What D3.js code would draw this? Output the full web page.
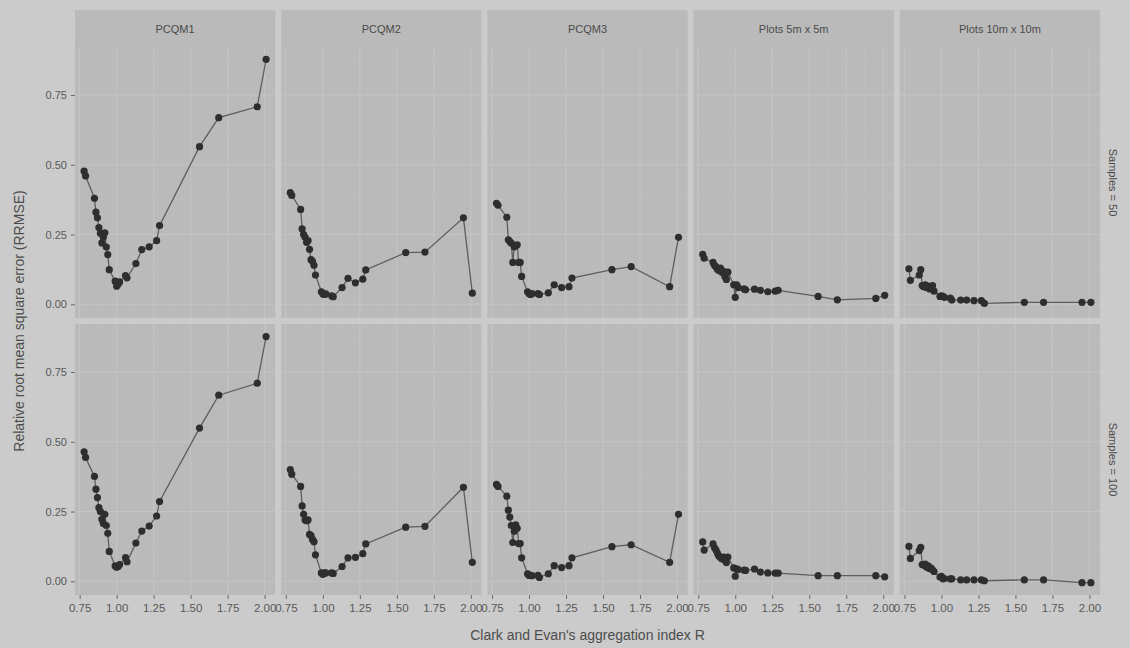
<!DOCTYPE html>
<html>
<head>
<meta charset="utf-8">
<script src="https://cdn.jsdelivr.net/npm/d3@7"></script>
<style>
  html, body { margin: 0; padding: 0; background: #cbcbcb; }
  svg { display: block; }
  text { font-family: "Liberation Sans", Arial, sans-serif; }
</style>
</head>
<body>
<svg id="chart" width="1130" height="648"></svg>
<script>
// ---------------- data ----------------
const R = [0.78, 0.79, 0.85, 0.86, 0.87, 0.88, 0.89, 0.90, 0.91, 0.92, 0.93, 0.94, 0.95, 0.99,
           1.00, 1.01, 1.02, 1.06, 1.07, 1.13, 1.17, 1.22, 1.27, 1.29, 1.56, 1.69, 1.95, 2.01];

const methods = ["PCQM1", "PCQM2", "PCQM3", "Plots 5m x 5m", "Plots 10m x 10m"];
const sampleRows = ["Samples = 50", "Samples = 100"];

const xTicks = [0.75, 1.00, 1.25, 1.50, 1.75, 2.00];
const yTicks = [0.00, 0.25, 0.50, 0.75];

// Samples = 50
const pcqm1_50 = [0.477, 0.46, 0.38, 0.33, 0.31, 0.275, 0.255, 0.22, 0.24, 0.256, 0.205, 0.178, 0.124, 0.083,
                  0.065, 0.072, 0.08, 0.103, 0.095, 0.146, 0.196, 0.206, 0.228, 0.282, 0.565, 0.669, 0.708, 0.878];
const pcqm2_50 = [0.40, 0.39, 0.34, 0.27, 0.25, 0.24, 0.222, 0.228, 0.197, 0.16, 0.154, 0.14, 0.105, 0.045,
                  0.037, 0.035, 0.037, 0.03, 0.027, 0.06, 0.093, 0.077, 0.09, 0.123, 0.185, 0.187, 0.31, 0.04];
const pcqm3_50 = [0.362, 0.355, 0.312, 0.231, 0.225, 0.219, 0.15, 0.206, 0.21, 0.213, 0.15, 0.15, 0.10, 0.045,
                  0.038, 0.035, 0.038, 0.038, 0.035, 0.041, 0.07, 0.06, 0.063, 0.094, 0.124, 0.135, 0.063, 0.24];
const plots5_50 = [0.179, 0.165, 0.15, 0.14, 0.134, 0.125, 0.121, 0.13, 0.115, 0.118, 0.10, 0.089, 0.115, 0.07,
                   0.025, 0.07, 0.06, 0.055, 0.052, 0.054, 0.05, 0.045, 0.047, 0.05, 0.028, 0.016, 0.021, 0.032];
const plots10_50 = [0.127, 0.086, 0.105, 0.124, 0.067, 0.063, 0.07, 0.06, 0.065, 0.055, 0.06, 0.067, 0.047, 0.028,
                    0.03, 0.028, 0.025, 0.022, 0.015, 0.015, 0.015, 0.013, 0.013, 0.003, 0.007, 0.007, 0.007, 0.007];

// Samples = 100
const pcqm1_100 = [0.464, 0.444, 0.376, 0.33, 0.30, 0.264, 0.25, 0.222, 0.207, 0.24, 0.20, 0.172, 0.107, 0.055,
                   0.05, 0.053, 0.06, 0.085, 0.07, 0.137, 0.18, 0.198, 0.234, 0.286, 0.549, 0.667, 0.71, 0.877];
const pcqm2_100 = [0.40, 0.384, 0.34, 0.27, 0.24, 0.22, 0.217, 0.22, 0.168, 0.164, 0.15, 0.142, 0.095, 0.03,
                   0.025, 0.03, 0.03, 0.03, 0.028, 0.053, 0.084, 0.086, 0.099, 0.134, 0.194, 0.197, 0.337, 0.068];
const pcqm3_100 = [0.347, 0.34, 0.305, 0.255, 0.23, 0.20, 0.139, 0.179, 0.202, 0.19, 0.135, 0.135, 0.084, 0.027,
                   0.021, 0.021, 0.02, 0.021, 0.014, 0.027, 0.056, 0.049, 0.056, 0.084, 0.124, 0.131, 0.068, 0.24];
const plots5_100 = [0.141, 0.112, 0.134, 0.12, 0.112, 0.10, 0.09, 0.085, 0.08, 0.087, 0.075, 0.067, 0.087, 0.048,
                    0.018, 0.045, 0.042, 0.04, 0.039, 0.044, 0.033, 0.03, 0.029, 0.029, 0.02, 0.02, 0.02, 0.016];
const plots10_100 = [0.125, 0.082, 0.11, 0.122, 0.06, 0.058, 0.062, 0.05, 0.055, 0.045, 0.047, 0.041, 0.035, 0.015,
                     0.018, 0.009, 0.01, 0.009, 0.009, 0.005, 0.005, 0.005, 0.005, 0.002, 0.005, 0.005, -0.005, -0.005];

const seriesByRow = [
  [pcqm1_50, pcqm2_50, pcqm3_50, plots5_50, plots10_50],
  [pcqm1_100, pcqm2_100, pcqm3_100, plots5_100, plots10_100]
];

// ---------------- layout ----------------
const W = 1130, H = 648;
const left = 75, right = 1100, gap = 6;
const nCol = methods.length;
const pw = (right - left - gap * (nCol - 1)) / nCol;
const stripTop = 10, stripH = 37;
const row1Top = stripTop + stripH, ph = 271;
const rowTops = [row1Top, row1Top + ph + gap];
const bottomY = rowTops[1] + ph;

const bg = "#cbcbcb", panelFill = "#bababa", stripFill = "#bababa";
const gridMajor = "#c4c4c4", gridMinor = "#bfbfbf";
const textCol = "#595959";

const svg = d3.select("#chart");
svg.append("rect").attr("width", W).attr("height", H).attr("fill", bg);

// shared scales (ggplot-like 5% expansion)
const allVals = seriesByRow.flat(2);
const xMin = d3.min(R), xMax = d3.max(R);
const yMin = d3.min(allVals), yMax = d3.max(allVals);
const xPad = (xMax - xMin) * 0.05, yPad = (yMax - yMin) * 0.05;
const x = d3.scaleLinear().domain([xMin - xPad, xMax + xPad]).range([0, pw]);
const y = d3.scaleLinear().domain([yMin - yPad, yMax + yPad]).range([ph, 0]);

const xMinor = xTicks.slice(0, -1).map((t, i) => (t + xTicks[i + 1]) / 2);
const yMinor = yTicks.map(t => t + 0.125);

methods.forEach((m, c) => {
  const px = left + c * (pw + gap);
  // top strip
  svg.append("rect").attr("x", px).attr("y", stripTop).attr("width", pw).attr("height", stripH)
    .attr("fill", stripFill);
  svg.append("text").attr("x", px + pw / 2).attr("y", stripTop + stripH / 2 + 4)
    .attr("text-anchor", "middle").attr("font-size", 11).attr("fill", "#4a4a4a").text(m);

  sampleRows.forEach((s, r) => {
    const g = svg.append("g").attr("transform", `translate(${px},${rowTops[r]})`);
    g.append("rect").attr("width", pw).attr("height", ph).attr("fill", panelFill);
    // minor grid
    g.selectAll(".gxm").data(xMinor).join("line")
      .attr("x1", d => x(d)).attr("x2", d => x(d)).attr("y1", 0).attr("y2", ph)
      .attr("stroke", gridMinor).attr("stroke-width", 0.6);
    g.selectAll(".gym").data(yMinor.filter(v => y(v) > 0)).join("line")
      .attr("y1", d => y(d)).attr("y2", d => y(d)).attr("x1", 0).attr("x2", pw)
      .attr("stroke", gridMinor).attr("stroke-width", 0.6);
    // major grid
    g.selectAll(".gx").data(xTicks).join("line")
      .attr("x1", d => x(d)).attr("x2", d => x(d)).attr("y1", 0).attr("y2", ph)
      .attr("stroke", gridMajor).attr("stroke-width", 1.1);
    g.selectAll(".gy").data(yTicks).join("line")
      .attr("y1", d => y(d)).attr("y2", d => y(d)).attr("x1", 0).attr("x2", pw)
      .attr("stroke", gridMajor).attr("stroke-width", 1.1);

    const vals = seriesByRow[r][c];
    const pts = R.map((xv, i) => ({ x: xv, y: vals[i] }));
    const line = d3.line().x(d => x(d.x)).y(d => y(d.y));
    g.append("path").datum(pts).attr("d", line).attr("fill", "none")
      .attr("stroke", "#5e5e5e").attr("stroke-width", 1.3);
    g.selectAll("circle").data(pts).join("circle")
      .attr("cx", d => x(d.x)).attr("cy", d => y(d.y)).attr("r", 3.6)
      .attr("fill", "#2e2e2e");

    // y axis on first column
    if (c === 0) {
      const ya = g.append("g").call(d3.axisLeft(y).tickValues(yTicks).tickFormat(d3.format(".2f")).tickSize(4).tickPadding(4));
      ya.select(".domain").remove();
      ya.selectAll("line").attr("stroke", "#6a6a6a");
      ya.selectAll("text").attr("font-size", 11).attr("fill", textCol)
        .attr("font-family", "Liberation Sans, Arial, sans-serif");
    }
    // x axis on bottom row
    if (r === 1) {
      const xa = g.append("g").attr("transform", `translate(0,${ph})`)
        .call(d3.axisBottom(x).tickValues(xTicks).tickFormat(d3.format(".2f")).tickSize(4).tickPadding(5));
      xa.select(".domain").remove();
      xa.selectAll("line").attr("stroke", "#6a6a6a");
      xa.selectAll("text").attr("font-size", 11.5).attr("fill", textCol)
        .attr("font-family", "Liberation Sans, Arial, sans-serif");
    }
  });
});

// right strips
sampleRows.forEach((s, r) => {
  const sx = right + 3, sw = 20;
  svg.append("rect").attr("x", sx).attr("y", rowTops[r]).attr("width", sw).attr("height", ph).attr("fill", bg);
  svg.append("text")
    .attr("transform", `translate(${sx + sw / 2 - 4},${rowTops[r] + ph / 2}) rotate(90)`)
    .attr("text-anchor", "middle").attr("font-size", 11).attr("fill", "#4a4a4a").text(s);
});

// axis titles
svg.append("text").attr("x", (left + right) / 2).attr("y", 640)
  .attr("text-anchor", "middle").attr("font-size", 14).attr("fill", "#4d4d4d")
  .text("Clark and Evan's aggregation index R");
svg.append("text")
  .attr("transform", `translate(24,${(rowTops[0] + bottomY) / 2}) rotate(-90)`)
  .attr("text-anchor", "middle").attr("font-size", 14).attr("fill", "#4d4d4d")
  .text("Relative root mean square error (RRMSE)");
</script>
</body>
</html>
